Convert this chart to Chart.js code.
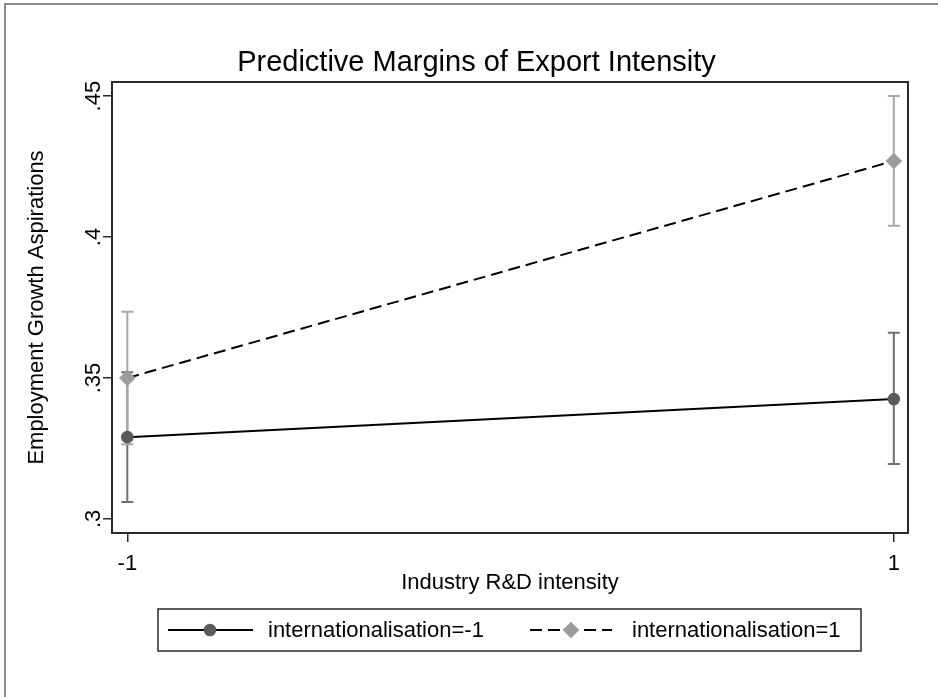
<!DOCTYPE html>
<html>
<head>
<meta charset="utf-8">
<title>Predictive Margins of Export Intensity</title>
<script src="https://cdn.jsdelivr.net/npm/chart.js@4.4.1/dist/chart.umd.min.js"></script>
<style>
  html, body { margin: 0; padding: 0; background: #ffffff; }
  #wrap { position: relative; width: 938px; height: 697px; }
</style>
</head>
<body>
<div id="wrap"><canvas id="chart"></canvas></div>
<script>
// Predictive margins at the two levels of industry R&D intensity
const rdLevels = [-1, 1];
const xTickLabels = ['-1', '1'];
const yTickValues = [0.3, 0.35, 0.4, 0.45];
const yTickLabels = ['.3', '.35', '.4', '.45'];

// internationalisation = -1
const marginIntlLow = [0.329, 0.3425];
const ciLowIntlLow  = [0.306, 0.3195];
const ciHighIntlLow = [0.352, 0.366];

// internationalisation = 1
const marginIntlHigh = [0.350, 0.427];
const ciLowIntlHigh  = [0.3265, 0.404];
const ciHighIntlHigh = [0.3735, 0.450];

const seriesNames = ['internationalisation=-1', 'internationalisation=1'];
const chartTitle = 'Predictive Margins of Export Intensity';
const xTitle = 'Industry R&D intensity';
const yTitle = 'Employment Growth Aspirations';

const FONT = "'Liberation Sans', Arial, Helvetica, sans-serif";
Chart.defaults.font.family = FONT;
Chart.defaults.color = '#000';

const styles = [
  { line: '#000000', dash: [], marker: '#5b5b5b', ci: '#6f6f6f', shape: 'circle', r: 6.3 },
  { line: '#000000', dash: [12, 6], marker: '#9c9c9c', ci: '#a8a8a8', shape: 'rectRot', r: 8.3 }
];

function toPoints(ys) { return rdLevels.map((x, i) => ({ x: x, y: ys[i] })); }

const ciSets = [
  { lo: ciLowIntlLow, hi: ciHighIntlLow },
  { lo: ciLowIntlHigh, hi: ciHighIntlHigh }
];

// confidence interval whiskers, under the lines and markers
const ciPlugin = {
  id: 'ciBars',
  beforeDatasetsDraw(chart) {
    const ctx = chart.ctx, xs = chart.scales.x, ys = chart.scales.y;
    ctx.save();
    ciSets.forEach((set, d) => {
      ctx.strokeStyle = styles[d].ci;
      ctx.lineWidth = 2;
      rdLevels.forEach((xv, i) => {
        const px = xs.getPixelForValue(xv);
        const pLo = ys.getPixelForValue(set.lo[i]);
        const pHi = ys.getPixelForValue(set.hi[i]);
        ctx.beginPath();
        ctx.moveTo(px, pLo); ctx.lineTo(px, pHi);
        ctx.moveTo(px - 6, pLo); ctx.lineTo(px + 6, pLo);
        ctx.moveTo(px - 6, pHi); ctx.lineTo(px + 6, pHi);
        ctx.stroke();
      });
    });
    ctx.restore();
  }
};

// frame, outer border, title, rotated y tick labels and legend
const decorPlugin = {
  id: 'decor',
  afterDraw(chart) {
    const ctx = chart.ctx, a = chart.chartArea, ys = chart.scales.y;
    ctx.save();
    // outer graph border
    ctx.strokeStyle = '#8a8a8a';
    ctx.lineWidth = 2;
    ctx.beginPath();
    ctx.moveTo(5, 697); ctx.lineTo(5, 4); ctx.lineTo(938, 4);
    ctx.stroke();

    // plot frame
    ctx.strokeStyle = '#2a2a2a';
    ctx.lineWidth = 2;
    ctx.strokeRect(a.left, a.top, a.right - a.left, a.bottom - a.top);

    // title
    ctx.fillStyle = '#000';
    ctx.font = '29px ' + FONT;
    ctx.textAlign = 'center';
    ctx.textBaseline = 'alphabetic';
    ctx.fillText(chartTitle, 476.5, 71);

    // y tick labels, rotated
    ctx.font = '22px ' + FONT;
    yTickValues.forEach((v, i) => {
      const py = ys.getPixelForValue(v);
      ctx.save();
      ctx.translate(100, py);
      ctx.rotate(-Math.PI / 2);
      ctx.textAlign = 'center';
      ctx.textBaseline = 'alphabetic';
      ctx.fillText(yTickLabels[i], 0, 0);
      ctx.restore();
    });

    // legend
    const box = { x: 158, y: 609, w: 703, h: 42 };
    ctx.strokeStyle = '#2a2a2a';
    ctx.lineWidth = 1.5;
    ctx.strokeRect(box.x, box.y, box.w, box.h);
    const cy = box.y + box.h / 2;
    const items = [
      { x0: 168, x1: 253, mx: 210, tx: 268 },
      { x0: 530, x1: 612, mx: 571, tx: 632 }
    ];
    items.forEach((it, d) => {
      const st = styles[d];
      ctx.strokeStyle = st.line;
      ctx.lineWidth = 2;
      ctx.setLineDash(st.dash);
      ctx.beginPath();
      ctx.moveTo(it.x0, cy); ctx.lineTo(it.x1, cy);
      ctx.stroke();
      ctx.setLineDash([]);
      ctx.fillStyle = st.marker;
      ctx.beginPath();
      if (st.shape === 'circle') {
        ctx.arc(it.mx, cy, st.r, 0, Math.PI * 2);
      } else {
        ctx.moveTo(it.mx, cy - st.r); ctx.lineTo(it.mx + st.r, cy);
        ctx.lineTo(it.mx, cy + st.r); ctx.lineTo(it.mx - st.r, cy);
        ctx.closePath();
      }
      ctx.fill();
      ctx.fillStyle = '#000';
      ctx.font = '22px ' + FONT;
      ctx.textAlign = 'left';
      ctx.textBaseline = 'middle';
      ctx.fillText(seriesNames[d], it.tx, cy + 1);
    });
    ctx.restore();
  }
};

new Chart(document.getElementById('chart'), {
  type: 'line',
  data: {
    datasets: [
      {
        label: seriesNames[0],
        data: toPoints(marginIntlLow),
        borderColor: styles[0].line,
        borderWidth: 2,
        borderDash: styles[0].dash,
        pointStyle: styles[0].shape,
        pointRadius: styles[0].r,
        pointBackgroundColor: styles[0].marker,
        pointBorderColor: styles[0].marker,
        pointBorderWidth: 0,
        tension: 0,
        fill: false
      },
      {
        label: seriesNames[1],
        data: toPoints(marginIntlHigh),
        borderColor: styles[1].line,
        borderWidth: 2,
        borderDash: styles[1].dash,
        pointStyle: styles[1].shape,
        pointRadius: styles[1].r,
        pointBackgroundColor: styles[1].marker,
        pointBorderColor: styles[1].marker,
        pointBorderWidth: 0,
        tension: 0,
        fill: false
      }
    ]
  },
  options: {
    responsive: true,
    maintainAspectRatio: false,
    animation: false,
    devicePixelRatio: 1,
    layout: { padding: { top: 82, right: 30, left: 0, bottom: 0 } },
    plugins: {
      legend: { display: false },
      title: { display: false },
      tooltip: { enabled: false }
    },
    scales: {
      x: {
        type: 'linear',
        min: -1.04,
        max: 1.037,
        afterBuildTicks(scale) { scale.ticks = rdLevels.map(v => ({ value: v })); },
        afterFit(scale) { scale.height = 164; },
        ticks: {
          font: { size: 22 },
          color: '#000',
          padding: 9,
          maxRotation: 0,
          callback(v) { return xTickLabels[rdLevels.indexOf(v)]; }
        },
        grid: { drawOnChartArea: false, drawTicks: true, tickLength: 9, color: '#2a2a2a', lineWidth: 1.5 },
        border: { display: false },
        title: {
          display: true,
          text: xTitle,
          font: { size: 22 },
          color: '#000',
          padding: { top: 0, bottom: 101 }
        }
      },
      y: {
        type: 'linear',
        min: 0.295,
        max: 0.455,
        afterBuildTicks(scale) { scale.ticks = yTickValues.map(v => ({ value: v })); },
        afterFit(scale) { scale.width = 112; },
        ticks: { display: false },
        grid: { drawOnChartArea: false, drawTicks: true, tickLength: 9, color: '#2a2a2a', lineWidth: 1.5 },
        border: { display: false },
        title: {
          display: true,
          text: yTitle,
          font: { size: 22 },
          color: '#000',
          padding: { top: 24, bottom: 0 }
        }
      }
    }
  },
  plugins: [ciPlugin, decorPlugin]
});
</script>
</body>
</html>
